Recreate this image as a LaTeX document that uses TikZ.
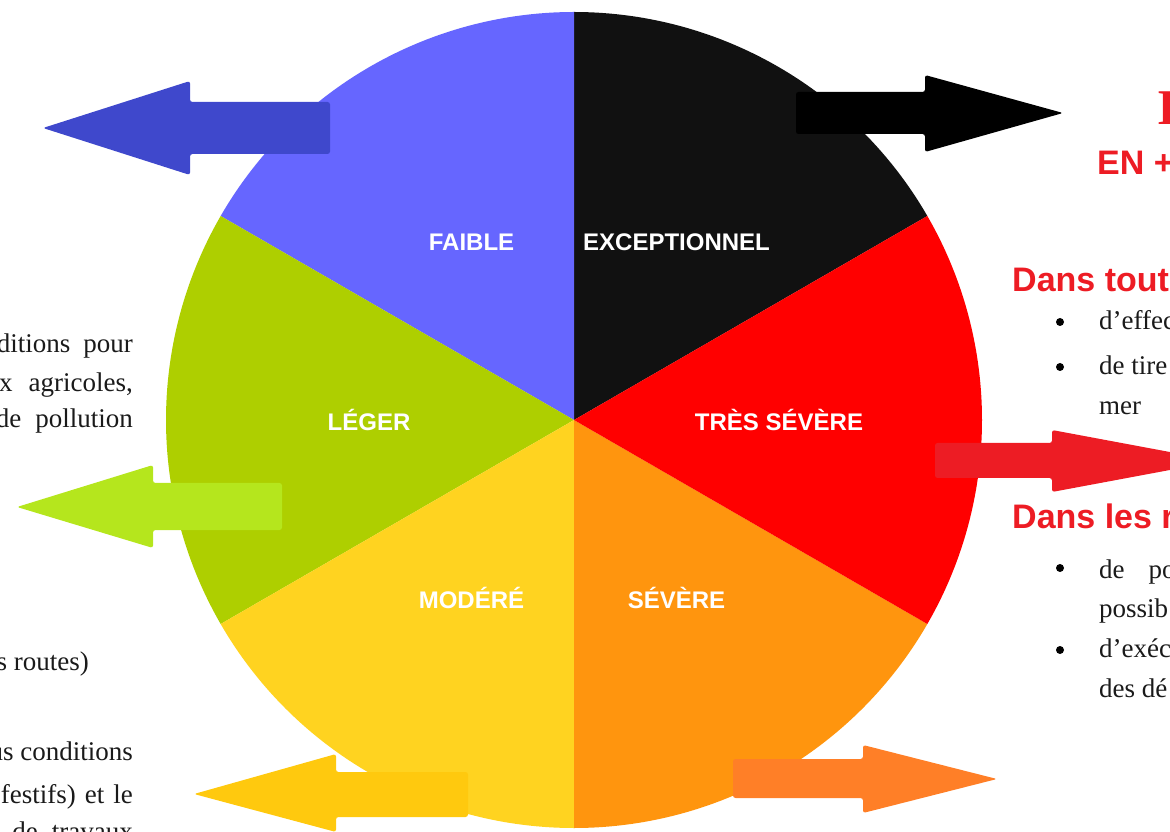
\documentclass[tikz,border=0pt]{standalone}
\usepackage{fontspec}
\setmainfont{Liberation Serif}
\newfontfamily\headsans{Liberation Sans}

\definecolor{faible}{HTML}{6666FF}
\definecolor{exceptionnel}{HTML}{111111}
\definecolor{tressevere}{HTML}{FF0000}
\definecolor{severe}{HTML}{FF950E}
\definecolor{modere}{HTML}{FFD320}
\definecolor{leger}{HTML}{AECF00}
\definecolor{arrowblue}{HTML}{3F48CC}
\definecolor{arrowred}{HTML}{ED1C24}
\definecolor{arrowgreen}{HTML}{B5E61D}
\definecolor{arrowyellow}{HTML}{FFC90E}
\definecolor{arroworange}{HTML}{FF7F27}
\definecolor{bodytext}{HTML}{1A1A1A}

\tikzset{
  sector label/.style={text=white, inner sep=0pt,
    font=\headsans\bfseries\fontsize{24}{24}\selectfont},
  body/.style={anchor=base west, inner sep=0pt, text=bodytext,
    font=\fontsize{27}{27}\selectfont},
  leftbody/.style={body, anchor=base east},
  heading/.style={anchor=base west, inner sep=0pt, text=arrowred,
    font=\headsans\bfseries\fontsize{34}{34}\selectfont},
  bullet/.style={circle, fill=black, inner sep=0pt, minimum size=8pt},
  block arrow/.style={rounded corners=2.5pt}
}

\begin{document}
\begin{tikzpicture}[x=1pt, y=1pt]
    \useasboundingbox (0,0) rectangle (1170,831);
    \clip (0,0) rectangle (1170,831);

    % the six sectors
    \coordinate (centre) at (574,411);
    \foreach \a/\col in {30/exceptionnel, 90/faible, 150/leger,
                         210/modere, 270/severe, 330/tressevere}
      \fill [color=\col] (centre) -- ++(\a:408) arc (\a:\a+60:408) -- cycle;

    \node [sector label] (faible) at ([shift={(120:205)}]centre) {FAIBLE};
    \node [sector label] (exceptionnel) at ([shift={(60:205)}]centre) {EXCEPTIONNEL};
    \node [sector label] (tressevere) at ([shift={(0:205)}]centre) {TRÈS SÉVÈRE};
    \node [sector label] (severe) at ([shift={(300:205)}]centre) {SÉVÈRE};
    \node [sector label] (modere) at ([shift={(240:205)}]centre) {MODÉRÉ};
    \node [sector label] (leger) at ([shift={(180:205)}]centre) {LÉGER};

    % arrows
    \fill [block arrow, color=arrowblue]
    (330,729) -- (190,729) -- (190,750) -- (43,703) -- (190,656) -- (190,677) -- (330,677) -- cycle;

    \fill [block arrow, color=black]
    (796,739) -- (925,739) -- (925,756) -- (1063,718) -- (925,679) -- (925,697) -- (796,697) -- cycle;

    \fill [block arrow, color=arrowred]
    (935,388) -- (1052,388) -- (1052,401) -- (1218,370) -- (1052,339) -- (1052,353) -- (935,353) -- cycle;

    \fill [block arrow, color=arrowgreen]
    (282,348) -- (153,348) -- (153,366) -- (17,324) -- (153,283) -- (153,301) -- (282,301) -- cycle;

    \fill [block arrow, color=arrowyellow]
    (468,59) -- (336,59) -- (336,77) -- (194,37) -- (336,-1) -- (336,14) -- (468,14) -- cycle;

    \fill [block arrow, color=arroworange]
    (733,72) -- (863,72) -- (863,86) -- (997,52) -- (863,18) -- (863,33) -- (733,33) -- cycle;

    % text on the left
    \node [leftbody] (l1) at (133,478) {ditions\hspace{13pt}pour};
    \node [leftbody] (l2) at (133,439) {x\hspace{16pt}agricoles,};
    \node [leftbody] (l3) at (133,403) {de\hspace{14pt}pollution};
    \node [leftbody] (l4) at (89,161) {s routes)};
    \node [leftbody] (l5) at (133,71) {us conditions};
    \node [leftbody] (l6) at (133,28) {festifs)\hspace{9pt}et\hspace{9pt}le};
    \node [leftbody] (l7) at (133,-9) {de\hspace{14pt}travaux};

    % text on the right
    \node [anchor=base west, inner sep=0pt, text=arrowred,
           font=\bfseries\fontsize{50}{50}\selectfont] (titre) at (1157,706) {I};
    \node [heading] (enplus) at (1097,656) {EN +};
    \node [heading] (dans1) at (1012,539) {Dans tout};
    \node [heading] (dans2) at (1012,303) {Dans les r};

    \node [bullet] (b1) at (1060,509) {};
    \node [body] (r1) at (1099,501) {d’effec};
    \node [bullet] (b2) at (1060,464) {};
    \node [body] (r2) at (1099,456) {de tire};
    \node [body] (r3) at (1099,416) {mer};
    \node [bullet] (b3) at (1060,263) {};
    \node [body] (r4) at (1099,253) {de\hspace{24pt}po};
    \node [body] (r5) at (1099,214) {possib};
    \node [bullet] (b4) at (1060,181) {};
    \node [body] (r6) at (1099,174) {d’exéc};
    \node [body] (r7) at (1099,134) {des dé};
\end{tikzpicture}
\end{document}
